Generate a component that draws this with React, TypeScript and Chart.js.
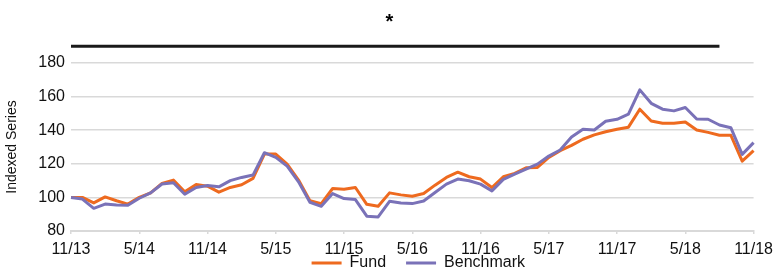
import React, { useEffect, useRef } from 'react';
import { Chart, registerables } from 'chart.js';

Chart.register(...registerables);

const months = [
  '11/13', '12/13',
  '1/14', '2/14', '3/14', '4/14', '5/14', '6/14', '7/14', '8/14', '9/14', '10/14', '11/14', '12/14',
  '1/15', '2/15', '3/15', '4/15', '5/15', '6/15', '7/15', '8/15', '9/15', '10/15', '11/15', '12/15',
  '1/16', '2/16', '3/16', '4/16', '5/16', '6/16', '7/16', '8/16', '9/16', '10/16', '11/16', '12/16',
  '1/17', '2/17', '3/17', '4/17', '5/17', '6/17', '7/17', '8/17', '9/17', '10/17', '11/17', '12/17',
  '1/18', '2/18', '3/18', '4/18', '5/18', '6/18', '7/18', '8/18', '9/18', '10/18', '11/18',
];

const fundValues = [
  100, 100, 96.7, 100.3, 98, 96, 100, 102.7, 108.3, 110.3,
  103.3, 107.7, 106.7, 103.1, 105.9, 107.5, 111.3, 125.8, 125.8, 119.8,
  110.3, 98, 96.3, 105.3, 104.9, 105.9, 95.9, 94.7, 102.7, 101.5,
  100.7, 102.3, 107.3, 111.9, 115, 112.3, 110.9, 105.9, 112.3, 114.3,
  117.6, 117.8, 123.8, 127.8, 131, 134.6, 137.2, 139.1, 140.6, 141.8,
  152.5, 145.5, 144.1, 144.1, 144.9, 140.1, 138.7, 137, 137, 121.6,
  127.8,
];

const benchmarkValues = [
  100, 99, 93.5, 96, 95.5, 95.3, 99.5, 102.7, 108, 108.7,
  101.9, 105.9, 107.1, 106.3, 110, 111.9, 113.3, 126.6, 123.8, 118.6,
  109.3, 97.1, 94.7, 102.3, 99.3, 98.7, 88.8, 88.4, 97.7, 96.7,
  96.3, 97.9, 102.9, 107.9, 110.9, 109.9, 107.9, 103.9, 110.7, 113.9,
  116.8, 119.8, 124.6, 128.2, 136, 140.6, 140.1, 145.3, 146.5, 149.5,
  164, 156, 152.5, 151.5, 153.5, 146.7, 146.5, 143.1, 141.5, 125.6,
  132.6,
];

// significance bar drawn above the plot (value on the same y scale)
const markerValues = [
  190, 190, 190, 190, 190, 190, 190, 190, 190, 190,
  190, 190, 190, 190, 190, 190, 190, 190, 190, 190,
  190, 190, 190, 190, 190, 190, 190, 190, 190, 190,
  190, 190, 190, 190, 190, 190, 190, 190, 190, 190,
  190, 190, 190, 190, 190, 190, 190, 190, 190, 190,
  190, 190, 190, 190, 190, 190, 190, 190, null, null,
  null,
];

const titleText = '*';
const yAxisTitle = 'Indexed Series';
const yMin = 80;
const yMax = 180;
const yStep = 20;
const labelEvery = 6;

const legendShift = {
  id: 'legendShift',
  afterLayout(chart: any) {
    const lg = chart.legend;
    if (lg) {
      lg.left += 6;
      lg.right += 6;
      lg.top += 3;
      lg.bottom += 3;
    }
  },
};

export default function App() {
  const canvasRef = useRef<HTMLCanvasElement | null>(null);

  useEffect(() => {
    if (!canvasRef.current) return;
    Chart.defaults.font.family = "'Liberation Sans', Arial, sans-serif";
    const chart = new Chart(canvasRef.current, {
      type: 'line',
      plugins: [legendShift],
      data: {
        labels: months,
        datasets: [
          {
            label: 'Fund',
            data: fundValues,
            borderColor: '#EE6A1F',
            backgroundColor: '#EE6A1F',
            borderWidth: 3,
            pointRadius: 0,
            tension: 0,
            borderJoinStyle: 'round',
            order: 1,
          },
          {
            label: 'Benchmark',
            data: benchmarkValues,
            borderColor: '#7A72B8',
            backgroundColor: '#7A72B8',
            borderWidth: 3,
            pointRadius: 0,
            tension: 0,
            borderJoinStyle: 'round',
            order: 0,
          },
          {
            label: 'marker',
            data: markerValues,
            borderColor: '#1a1a1a',
            borderWidth: 3,
            pointRadius: 0,
            tension: 0,
            clip: false,
            order: 2,
          } as any,
        ],
      },
      options: {
        animation: false,
        responsive: true,
        maintainAspectRatio: false,
        layout: { padding: 0 },
        plugins: {
          tooltip: { enabled: false },
          title: {
            display: true,
            text: titleText,
            color: '#000',
            font: { size: 20, weight: 'bold' },
            padding: { top: 10, bottom: 29 },
          },
          legend: {
            position: 'bottom',
            fullSize: false,
            labels: {
              usePointStyle: true,
              pointStyle: 'line',
              pointStyleWidth: 30,
              padding: 20,
              color: '#111',
              font: { size: 16 },
              filter: (item: any) => item.datasetIndex !== 2,
              sort: (a: any, b: any) => a.datasetIndex - b.datasetIndex,
            },
          },
        },
        scales: {
          x: {
            type: 'category',
            grid: {
              display: true,
              drawOnChartArea: false,
              drawTicks: true,
              tickLength: 3,
              color: '#d9d9d9',
              lineWidth: 1.5,
            },
            border: { display: true, color: '#d9d9d9', width: 2 },
            ticks: {
              autoSkip: false,
              maxRotation: 0,
              minRotation: 0,
              padding: 6,
              color: '#111',
              font: { size: 16 },
              callback: (_v: any, i: number) => (i % labelEvery === 0 ? months[i] : null),
            },
            afterFit: (scale: any) => {
              scale.height = 1;
              scale._computeLabelArea = () => null;
            },
          },
          y: {
            min: yMin,
            max: yMax,
            grid: { color: '#d9d9d9', lineWidth: 1.5, drawTicks: false },
            border: { display: false },
            ticks: {
              stepSize: yStep,
              padding: 6,
              color: '#111',
              font: { size: 16 },
            },
            title: {
              display: true,
              text: yAxisTitle,
              color: '#111',
              font: { size: 14 },
            },
            afterFit: (scale: any) => {
              scale.width = 71;
            },
          },
        },
      },
    });
    return () => chart.destroy();
  }, []);

  return (
    <div style={{ position: 'fixed', left: 0, top: 0, width: 779, height: 278, background: '#fff' }}>
      <canvas ref={canvasRef} />
    </div>
  );
}
